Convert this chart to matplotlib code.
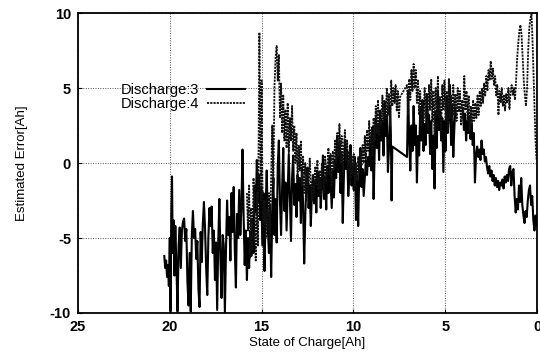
import matplotlib
matplotlib.use("Agg")
import matplotlib.pyplot as plt

# ---- data ----
d3_x = [20.30,20.25,20.20,20.15,20.10,20.05,20.00,19.96,19.92,19.88,19.84,19.80,19.75,19.70,19.64,19.58,19.52,19.46,19.40,19.34,
        19.28,19.22,19.16,19.10,19.04,18.98,18.92,18.86,18.80,18.74,18.68,18.62,18.56,18.50,18.44,18.38,18.32,18.26,18.20,18.14,
        18.08,18.02,17.96,17.90,17.84,17.78,17.72,17.66,17.60,17.54,17.48,17.42,17.36,17.30,17.24,17.18,17.12,17.06,17.00,16.94,
        16.88,16.82,16.76,16.70,16.64,16.58,16.52,16.46,16.40,16.34,16.28,16.22,16.16,16.10,16.04,15.98,15.92,15.86,15.80,15.74,
        15.68,15.62,15.56,15.50,15.44,15.38,15.32,15.26,15.20,15.14,15.08,15.02,14.96,
        14.90,14.84,14.78,14.72,14.66,14.60,14.54,14.48,14.42,14.36,14.30,14.24,14.18,14.12,14.06,14.00,13.94,13.88,13.82,13.76,
        13.70,13.64,13.58,13.52,13.46,13.40,13.34,13.28,13.22,13.16,13.10,13.04,12.98,12.92,12.86,12.80,12.74,12.68,12.62,12.56,
        12.50,12.44,12.38,12.32,12.26,12.20,12.14,12.08,12.02,11.96,11.90,11.84,11.78,11.72,11.66,11.60,11.54,11.48,11.42,11.36,
        11.30,11.24,11.18,11.12,11.06,11.00,10.94,10.88,10.82,10.76,10.70,10.64,10.58,10.52,10.46,10.40,10.34,10.28,10.22,10.16,
        10.10,10.04,
        9.98,9.92,9.86,9.80,9.74,9.68,9.62,9.56,9.50,9.44,9.38,9.32,9.26,9.20,9.14,9.08,9.02,8.96,8.90,8.84,
        8.78,8.72,8.66,8.60,8.54,8.48,8.42,8.36,8.30,8.24,8.18,8.12,8.06,8.00,7.96,7.92,7.88,
        7.08,7.02,6.96,6.90,6.84,6.78,6.72,6.66,6.60,6.54,6.48,6.42,6.36,6.30,6.24,6.18,6.12,6.06,6.00,5.94,
        5.88,5.82,5.76,5.70,5.64,5.58,5.52,5.46,5.40,5.34,5.28,5.22,5.16,5.10,5.04,4.98,4.92,4.86,4.80,4.74,
        4.68,4.62,4.56,4.50,4.44,4.40,4.05,3.98,3.92,3.86,3.80,3.74,3.68,3.62,3.56,3.50,3.44,3.38,3.32,3.26,
        3.20,3.14,3.08,3.02,2.96,2.90,2.84,2.78,2.72,2.66,2.60,2.54,2.48,2.42,2.36,2.30,2.24,2.18,2.12,2.06,
        2.00,1.94,1.88,1.82,1.76,1.70,1.64,1.58,1.52,1.46,1.40,1.34,1.28,1.22,1.16,1.10,1.04,0.98,0.92,0.86,
        0.80,0.74,0.68,0.62,0.56,0.50,0.44,0.38,0.32,0.26,0.20,0.14,0.08,0.03]
d3_y = [-6.2,-7.0,-6.5,-7.6,-6.8,-8.2,-5.0,-9.9,-3.5,-0.9,-6.0,-3.8,-7.5,-4.2,-6.8,-9.9,-5.5,-4.3,-7.0,-4.5,
        -3.9,-3.7,-5.2,-4.4,-7.9,-9.5,-6.0,-9.9,-4.8,-3.2,-5.0,-4.4,-6.4,-5.2,-8.4,-9.6,-4.6,-6.6,-4.0,-2.6,
        -4.4,-7.0,-8.8,-5.0,-3.0,-4.2,-2.9,-6.0,-4.5,-7.8,-5.3,-9.8,-5.2,-2.4,-6.5,-9.0,-4.8,-5.5,-10.0,-5.8,
        -2.5,-4.8,-3.6,-6.5,-2.0,-4.6,-1.6,-5.8,-8.3,-3.4,-5.0,-1.8,-4.8,-3.0,0.9,-3.5,-6.8,-4.5,-7.8,-5.0,
        -7.0,-4.6,-6.2,-3.8,-6.0,-1.5,-3.3,0.2,-2.6,-0.8,-3.8,-1.6,-5.5,
        -2.0,-7.2,-3.0,-0.5,-4.4,-6.0,-2.8,-7.6,-3.5,-1.0,-4.8,-2.4,-5.3,-0.2,1.5,-2.5,-4.8,-1.6,1.0,-3.2,
        -1.3,-4.5,-2.0,0.6,-2.2,-5.2,-1.0,0.5,-2.8,-1.4,-3.6,-0.8,-2.5,-1.0,-4.0,-0.3,-2.8,-6.7,-3.5,-1.2,
        -0.3,-3.0,-1.5,-4.2,-2.0,-0.8,-2.7,-1.2,-3.3,-0.6,-2.2,-1.0,-3.0,-1.5,0.5,-2.4,-0.9,-3.1,-0.2,-2.0,
        0.4,-1.3,-3.0,-0.5,-2.3,0.2,-1.0,1.8,-0.6,1.2,-2.0,0.6,-4.0,-1.0,1.5,-0.4,0.8,-2.2,-0.8,1.2,
        -1.5,-0.2,
        -1.8,0.4,-3.8,-1.2,-4.2,-0.6,1.0,-1.6,-0.4,-2.2,-1.0,0.2,-0.8,0.4,-0.2,1.6,-0.5,2.4,-2.4,0.8,
        3.0,1.0,2.6,0.2,3.5,1.5,2.8,0.5,4.0,1.8,3.2,-0.6,1.0,3.8,2.0,-2.5,1.1,
        0.4,4.8,1.5,-0.5,2.5,0.8,3.8,1.2,2.5,-1.3,1.8,0.5,3.6,1.5,4.2,0.8,2.6,1.2,4.6,2.0,
        3.2,0.6,2.8,-0.4,1.8,-1.7,3.4,1.0,4.8,2.2,3.5,1.5,3.0,-0.6,2.8,0.8,4.4,2.0,3.2,5.2,
        1.2,3.8,0.4,2.4,3.7,3.7,3.7,2.2,3.3,1.5,2.8,2.0,3.1,1.6,2.6,1.2,2.0,-1.3,0.5,1.1,
        0.4,0.9,0.2,1.5,0.6,0.9,0.1,0.4,-0.3,-0.7,-0.2,-0.9,-0.5,-1.2,-0.8,-1.5,-1.0,-1.6,-1.2,-1.8,
        -1.3,-1.5,-1.1,-1.7,-0.9,-1.3,-0.8,-1.2,-0.4,-0.2,-1.5,-0.6,-0.4,-2.2,-3.3,-2.4,-3.1,-1.5,-2.6,-1.0,
        -2.8,-3.5,-4.0,-3.2,-3.6,-2.5,-1.8,-1.5,-2.8,-2.2,-3.8,-4.5,-3.5,-4.2]

d4_x = [15.80,15.74,15.68,15.62,15.56,15.50,15.44,15.38,15.32,15.26,15.20,15.16,15.12,15.08,15.04,15.00,14.96,14.90,14.84,14.78,
        14.72,14.66,14.60,14.54,14.48,14.42,14.36,14.30,14.24,14.18,14.12,14.06,14.00,13.94,13.88,13.82,13.76,13.70,13.64,13.58,
        13.52,13.46,13.40,13.34,13.28,13.22,13.16,13.10,13.04,12.98,12.92,12.86,12.80,12.74,12.68,12.62,12.56,12.50,12.44,12.38,
        12.32,12.26,12.20,12.14,12.08,12.02,11.96,11.90,11.84,11.78,11.72,11.66,11.60,11.54,11.48,11.42,11.36,11.30,11.24,11.18,
        11.12,11.06,11.00,10.94,10.88,10.82,10.76,10.70,10.64,10.58,10.52,10.46,10.40,10.34,10.28,10.22,10.16,10.10,10.04,9.98,
        9.92,9.86,9.80,9.74,9.68,9.62,9.56,9.50,9.44,9.38,9.32,9.26,9.20,9.14,9.08,9.02,8.96,8.90,8.84,8.78,
        8.72,8.66,8.60,8.54,8.48,8.42,8.36,8.30,8.24,8.18,8.12,8.06,8.00,7.94,7.88,7.82,7.76,7.70,7.64,7.58,
        7.52,7.46,7.08,7.02,6.96,6.90,6.84,6.78,6.72,6.66,6.60,6.54,6.48,6.42,6.36,6.30,6.24,6.18,6.12,6.06,
        6.00,5.94,5.88,5.82,5.76,5.70,5.64,5.58,5.52,5.46,5.40,5.34,5.28,5.22,5.16,5.10,5.04,4.98,4.92,4.86,
        4.80,4.74,4.68,4.62,4.56,4.50,4.44,4.38,4.32,4.26,4.20,4.14,4.08,4.02,3.96,3.90,3.84,3.78,3.72,3.66,
        3.60,3.54,3.48,3.42,3.36,3.30,3.24,3.18,3.12,3.06,3.00,2.94,2.88,2.82,2.76,2.70,2.64,2.58,2.52,2.46,
        2.40,2.34,2.28,2.22,2.16,2.10,2.04,1.98,1.92,1.86,1.80,1.74,1.68,1.62,1.56,1.50,1.44,1.38,1.32,1.26,
        1.20,1.14,1.08,1.02,0.96,0.90,0.84,0.78,0.72,0.66,0.60,0.54,0.48,0.42,0.36,0.30,0.24,0.18,0.12,0.08,
        0.04,0.02]
d4_y = [-2.0,-4.5,-1.5,-6.3,-3.0,-5.8,-1.0,-4.0,-6.5,-2.0,-5.5,2.0,8.7,3.0,-2.5,5.5,-1.0,-4.0,-2.5,-5.0,
        -3.0,-4.5,-2.0,-5.3,-1.0,2.5,-1.5,5.0,7.0,7.8,5.5,7.2,3.0,5.3,2.0,4.5,1.5,3.5,1.0,4.0,
        0.7,3.0,1.5,3.8,0.8,2.5,0.0,2.0,-1.0,1.2,-0.5,1.5,-1.5,0.5,-2.0,0.0,-2.5,-0.5,-1.8,0.3,
        -1.2,-2.5,-0.8,-2.0,-0.3,-1.5,0.2,-1.8,-0.5,-2.2,0.0,-1.0,-2.0,0.5,-1.2,-0.3,1.0,-0.8,0.6,-1.5,
        0.8,-0.4,1.5,0.0,2.0,0.5,2.6,0.0,1.8,-0.8,1.0,2.2,0.2,1.5,-0.5,0.8,-1.0,0.5,-0.8,0.6,
        -1.5,0.0,-1.2,0.4,-0.6,0.8,-0.2,1.2,0.0,1.8,0.3,2.2,0.8,2.8,1.0,2.2,0.5,3.0,1.5,3.8,
        2.0,4.2,1.8,3.5,2.5,4.5,2.8,4.2,3.0,5.0,3.2,4.6,2.5,5.5,3.8,5.0,4.0,5.2,3.5,4.8,
        3.0,4.4,5.2,3.2,5.6,4.2,6.2,4.8,6.6,5.0,6.2,4.0,5.5,3.2,4.8,2.5,4.2,2.8,5.0,3.0,
        4.5,2.2,5.2,3.5,5.6,2.8,4.8,1.8,5.0,3.2,5.8,3.0,4.4,2.0,5.2,3.5,5.5,2.8,4.8,2.2,
        5.6,3.0,4.5,2.6,5.2,3.2,4.6,2.8,5.0,3.4,4.8,2.5,4.2,3.0,5.8,3.5,4.8,2.8,4.5,2.2,
        3.8,2.5,4.2,2.8,4.0,3.0,4.5,3.2,4.8,3.8,5.0,4.0,5.3,4.5,5.8,4.8,6.2,5.5,6.8,5.6,
        6.3,5.2,5.8,4.5,5.2,3.2,4.8,4.0,5.0,3.8,4.5,3.5,4.6,4.0,5.0,3.6,4.8,5.2,4.5,5.0,
        4.2,5.5,7.0,8.0,8.8,9.2,8.5,7.0,5.5,4.5,3.8,5.0,7.5,9.0,9.6,10.0,8.0,5.5,3.0,1.5,
        0.5,0.2]

labels = ["Discharge:3", "Discharge:4"]
xticks = [25, 20, 15, 10, 5, 0]
yticks = [-10, -5, 0, 5, 10]

plt.rcParams['font.family'] = ['Liberation Sans', 'DejaVu Sans']
plt.rcParams['axes.unicode_minus'] = False

fig = plt.figure(figsize=(5.40, 3.61), dpi=100)
ax = fig.add_axes([78/540, 48/361, 459/540, 300/361])

ax.plot(d3_x, d3_y, color='black', lw=1.5, linestyle='-', label=labels[0])
ax.plot(d4_x, d4_y, color='#111111', lw=1.3, linestyle=(0, (1.2, 0.6)), label=labels[1])

ax.set_xlim(25, 0)
ax.set_ylim(-10, 10)
ax.set_xticks(xticks)
ax.set_yticks(yticks)
ax.grid(True, color='#555555', linestyle=(0, (1, 1.5)), lw=0.7)
for s in ax.spines.values():
    s.set_linewidth(1.3)
ax.tick_params(direction='in', length=3, labelsize=10.5, pad=5)
for t in ax.get_xticklabels() + ax.get_yticklabels():
    t.set_fontweight('bold')

ax.set_xlabel("State of Charge[Ah]", fontsize=9.5, labelpad=2)
ax.set_ylabel("Estimated Error[Ah]", fontsize=9.5, labelpad=16)

leg = ax.legend(loc='upper left', bbox_to_anchor=(0.07, 0.80), frameon=False,
                markerfirst=False, handlelength=2.6, handletextpad=0.6,
                labelspacing=0.0, fontsize=10.5, borderpad=0.2)

fig.savefig("out.png", dpi=100)
